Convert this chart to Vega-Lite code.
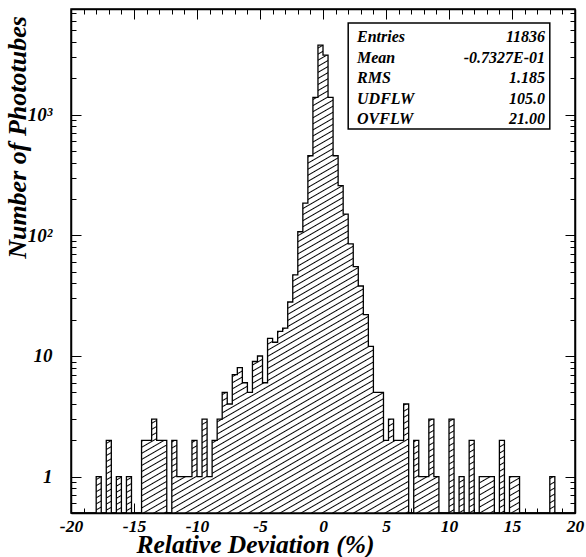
{
  "$schema": "https://vega.github.io/schema/vega-lite/v6.json",
  "width": 504,
  "height": 504,
  "autosize": {"type": "none"},
  "padding": {"left": 71, "top": 9, "right": 11, "bottom": 44},
  "background": "white",
  "config": {
    "view": {"stroke": "black", "strokeWidth": 1.5},
    "axis": {
      "grid": false,
      "domainColor": "black",
      "domainWidth": 1.5,
      "tickColor": "black",
      "tickWidth": 1,
      "labelFont": "Liberation Serif",
      "labelFontStyle": "italic",
      "labelFontWeight": "bold",
      "labelColor": "black",
      "labelOverlap": false,
      "labelFlush": false,
      "titleFont": "Liberation Serif",
      "titleFontStyle": "italic",
      "titleFontWeight": "bold",
      "titleColor": "black"
    }
  },
  "resolve": {"axis": {"x": "independent", "y": "independent"}},
  "layer": [
    {
      "data": {"values": [
        {"lo": -20, "n": 0}, {"lo": -19.6, "n": 0}, {"lo": -19.2, "n": 0}, {"lo": -18.8, "n": 0}, {"lo": -18.4, "n": 0},
        {"lo": -18, "n": 1}, {"lo": -17.6, "n": 0}, {"lo": -17.2, "n": 2}, {"lo": -16.8, "n": 0}, {"lo": -16.4, "n": 1},
        {"lo": -16, "n": 0}, {"lo": -15.6, "n": 1}, {"lo": -15.2, "n": 0}, {"lo": -14.8, "n": 0}, {"lo": -14.4, "n": 2},
        {"lo": -14, "n": 2}, {"lo": -13.6, "n": 3}, {"lo": -13.2, "n": 2}, {"lo": -12.8, "n": 2}, {"lo": -12.4, "n": 0},
        {"lo": -12, "n": 2}, {"lo": -11.6, "n": 1}, {"lo": -11.2, "n": 1}, {"lo": -10.8, "n": 1}, {"lo": -10.4, "n": 2},
        {"lo": -10, "n": 1}, {"lo": -9.6, "n": 3}, {"lo": -9.2, "n": 1}, {"lo": -8.8, "n": 2}, {"lo": -8.4, "n": 3},
        {"lo": -8, "n": 5}, {"lo": -7.6, "n": 4}, {"lo": -7.2, "n": 7}, {"lo": -6.8, "n": 8}, {"lo": -6.4, "n": 6},
        {"lo": -6, "n": 5}, {"lo": -5.6, "n": 9}, {"lo": -5.2, "n": 10}, {"lo": -4.8, "n": 6}, {"lo": -4.4, "n": 14},
        {"lo": -4, "n": 13}, {"lo": -3.6, "n": 16}, {"lo": -3.2, "n": 17}, {"lo": -2.8, "n": 28}, {"lo": -2.4, "n": 47},
        {"lo": -2, "n": 107}, {"lo": -1.6, "n": 185}, {"lo": -1.2, "n": 456}, {"lo": -0.8, "n": 1390}, {"lo": -0.4, "n": 3770},
        {"lo": 0, "n": 3110}, {"lo": 0.4, "n": 1390}, {"lo": 0.8, "n": 456}, {"lo": 1.2, "n": 258}, {"lo": 1.6, "n": 150},
        {"lo": 2, "n": 85}, {"lo": 2.4, "n": 55}, {"lo": 2.8, "n": 38}, {"lo": 3.2, "n": 22}, {"lo": 3.6, "n": 12},
        {"lo": 4, "n": 5}, {"lo": 4.4, "n": 5}, {"lo": 4.8, "n": 2}, {"lo": 5.2, "n": 3}, {"lo": 5.6, "n": 2},
        {"lo": 6, "n": 2}, {"lo": 6.4, "n": 4}, {"lo": 6.8, "n": 0}, {"lo": 7.2, "n": 2}, {"lo": 7.6, "n": 1},
        {"lo": 8, "n": 1}, {"lo": 8.4, "n": 3}, {"lo": 8.8, "n": 1}, {"lo": 9.2, "n": 0}, {"lo": 9.6, "n": 0},
        {"lo": 10, "n": 3}, {"lo": 10.4, "n": 0}, {"lo": 10.8, "n": 1}, {"lo": 11.2, "n": 0}, {"lo": 11.6, "n": 2},
        {"lo": 12, "n": 0}, {"lo": 12.4, "n": 1}, {"lo": 12.8, "n": 1}, {"lo": 13.2, "n": 1}, {"lo": 13.6, "n": 0},
        {"lo": 14, "n": 2}, {"lo": 14.4, "n": 0}, {"lo": 14.8, "n": 1}, {"lo": 15.2, "n": 1}, {"lo": 15.6, "n": 0},
        {"lo": 16, "n": 0}, {"lo": 16.4, "n": 0}, {"lo": 16.8, "n": 0}, {"lo": 17.2, "n": 0}, {"lo": 17.6, "n": 0},
        {"lo": 18, "n": 1}, {"lo": 18.4, "n": 0}, {"lo": 18.8, "n": 0}, {"lo": 19.2, "n": 0}, {"lo": 19.6, "n": 0},
        {"lo": 20, "n": 0}
      ]},
      "mark": {"type": "area", "interpolate": "step-after", "fillOpacity": 1, "stroke": "black", "strokeWidth": 1.3,
        "fill": {"gradient": "linear", "x1": 0, "y1": 0, "x2": 0.727, "y2": 1.169, "stops": [
{"offset":0,"color":"#000"},{"offset":0.0015,"color":"#fff"},{"offset":0.0065,"color":"#fff"},
{"offset":0.008,"color":"#000"},{"offset":0.0095,"color":"#fff"},{"offset":0.0145,"color":"#fff"},
{"offset":0.016,"color":"#000"},{"offset":0.0175,"color":"#fff"},{"offset":0.0225,"color":"#fff"},
{"offset":0.024,"color":"#000"},{"offset":0.0255,"color":"#fff"},{"offset":0.0305,"color":"#fff"},
{"offset":0.032,"color":"#000"},{"offset":0.0335,"color":"#fff"},{"offset":0.0385,"color":"#fff"},
{"offset":0.04,"color":"#000"},{"offset":0.0415,"color":"#fff"},{"offset":0.0465,"color":"#fff"},
{"offset":0.048,"color":"#000"},{"offset":0.0495,"color":"#fff"},{"offset":0.0545,"color":"#fff"},
{"offset":0.056,"color":"#000"},{"offset":0.0575,"color":"#fff"},{"offset":0.0625,"color":"#fff"},
{"offset":0.064,"color":"#000"},{"offset":0.0655,"color":"#fff"},{"offset":0.0705,"color":"#fff"},
{"offset":0.072,"color":"#000"},{"offset":0.0735,"color":"#fff"},{"offset":0.0785,"color":"#fff"},
{"offset":0.08,"color":"#000"},{"offset":0.0815,"color":"#fff"},{"offset":0.0865,"color":"#fff"},
{"offset":0.088,"color":"#000"},{"offset":0.0895,"color":"#fff"},{"offset":0.0945,"color":"#fff"},
{"offset":0.096,"color":"#000"},{"offset":0.0975,"color":"#fff"},{"offset":0.1025,"color":"#fff"},
{"offset":0.104,"color":"#000"},{"offset":0.1055,"color":"#fff"},{"offset":0.1105,"color":"#fff"},
{"offset":0.112,"color":"#000"},{"offset":0.1135,"color":"#fff"},{"offset":0.1185,"color":"#fff"},
{"offset":0.12,"color":"#000"},{"offset":0.1215,"color":"#fff"},{"offset":0.1265,"color":"#fff"},
{"offset":0.128,"color":"#000"},{"offset":0.1295,"color":"#fff"},{"offset":0.1345,"color":"#fff"},
{"offset":0.136,"color":"#000"},{"offset":0.1375,"color":"#fff"},{"offset":0.1425,"color":"#fff"},
{"offset":0.144,"color":"#000"},{"offset":0.1455,"color":"#fff"},{"offset":0.1505,"color":"#fff"},
{"offset":0.152,"color":"#000"},{"offset":0.1535,"color":"#fff"},{"offset":0.1585,"color":"#fff"},
{"offset":0.16,"color":"#000"},{"offset":0.1615,"color":"#fff"},{"offset":0.1665,"color":"#fff"},
{"offset":0.168,"color":"#000"},{"offset":0.1695,"color":"#fff"},{"offset":0.1745,"color":"#fff"},
{"offset":0.176,"color":"#000"},{"offset":0.1775,"color":"#fff"},{"offset":0.1825,"color":"#fff"},
{"offset":0.184,"color":"#000"},{"offset":0.1855,"color":"#fff"},{"offset":0.1905,"color":"#fff"},
{"offset":0.192,"color":"#000"},{"offset":0.1935,"color":"#fff"},{"offset":0.1985,"color":"#fff"},
{"offset":0.2,"color":"#000"},{"offset":0.2015,"color":"#fff"},{"offset":0.2065,"color":"#fff"},
{"offset":0.208,"color":"#000"},{"offset":0.2095,"color":"#fff"},{"offset":0.2145,"color":"#fff"},
{"offset":0.216,"color":"#000"},{"offset":0.2175,"color":"#fff"},{"offset":0.2225,"color":"#fff"},
{"offset":0.224,"color":"#000"},{"offset":0.2255,"color":"#fff"},{"offset":0.2305,"color":"#fff"},
{"offset":0.232,"color":"#000"},{"offset":0.2335,"color":"#fff"},{"offset":0.2385,"color":"#fff"},
{"offset":0.24,"color":"#000"},{"offset":0.2415,"color":"#fff"},{"offset":0.2465,"color":"#fff"},
{"offset":0.248,"color":"#000"},{"offset":0.2495,"color":"#fff"},{"offset":0.2545,"color":"#fff"},
{"offset":0.256,"color":"#000"},{"offset":0.2575,"color":"#fff"},{"offset":0.2625,"color":"#fff"},
{"offset":0.264,"color":"#000"},{"offset":0.2655,"color":"#fff"},{"offset":0.2705,"color":"#fff"},
{"offset":0.272,"color":"#000"},{"offset":0.2735,"color":"#fff"},{"offset":0.2785,"color":"#fff"},
{"offset":0.28,"color":"#000"},{"offset":0.2815,"color":"#fff"},{"offset":0.2865,"color":"#fff"},
{"offset":0.288,"color":"#000"},{"offset":0.2895,"color":"#fff"},{"offset":0.2945,"color":"#fff"},
{"offset":0.296,"color":"#000"},{"offset":0.2975,"color":"#fff"},{"offset":0.3025,"color":"#fff"},
{"offset":0.304,"color":"#000"},{"offset":0.3055,"color":"#fff"},{"offset":0.3105,"color":"#fff"},
{"offset":0.312,"color":"#000"},{"offset":0.3135,"color":"#fff"},{"offset":0.3185,"color":"#fff"},
{"offset":0.32,"color":"#000"},{"offset":0.3215,"color":"#fff"},{"offset":0.3265,"color":"#fff"},
{"offset":0.328,"color":"#000"},{"offset":0.3295,"color":"#fff"},{"offset":0.3345,"color":"#fff"},
{"offset":0.336,"color":"#000"},{"offset":0.3375,"color":"#fff"},{"offset":0.3425,"color":"#fff"},
{"offset":0.344,"color":"#000"},{"offset":0.3455,"color":"#fff"},{"offset":0.3505,"color":"#fff"},
{"offset":0.352,"color":"#000"},{"offset":0.3535,"color":"#fff"},{"offset":0.3585,"color":"#fff"},
{"offset":0.36,"color":"#000"},{"offset":0.3615,"color":"#fff"},{"offset":0.3665,"color":"#fff"},
{"offset":0.368,"color":"#000"},{"offset":0.3695,"color":"#fff"},{"offset":0.3745,"color":"#fff"},
{"offset":0.376,"color":"#000"},{"offset":0.3775,"color":"#fff"},{"offset":0.3825,"color":"#fff"},
{"offset":0.384,"color":"#000"},{"offset":0.3855,"color":"#fff"},{"offset":0.3905,"color":"#fff"},
{"offset":0.392,"color":"#000"},{"offset":0.3935,"color":"#fff"},{"offset":0.3985,"color":"#fff"},
{"offset":0.4,"color":"#000"},{"offset":0.4015,"color":"#fff"},{"offset":0.4065,"color":"#fff"},
{"offset":0.408,"color":"#000"},{"offset":0.4095,"color":"#fff"},{"offset":0.4145,"color":"#fff"},
{"offset":0.416,"color":"#000"},{"offset":0.4175,"color":"#fff"},{"offset":0.4225,"color":"#fff"},
{"offset":0.424,"color":"#000"},{"offset":0.4255,"color":"#fff"},{"offset":0.4305,"color":"#fff"},
{"offset":0.432,"color":"#000"},{"offset":0.4335,"color":"#fff"},{"offset":0.4385,"color":"#fff"},
{"offset":0.44,"color":"#000"},{"offset":0.4415,"color":"#fff"},{"offset":0.4465,"color":"#fff"},
{"offset":0.448,"color":"#000"},{"offset":0.4495,"color":"#fff"},{"offset":0.4545,"color":"#fff"},
{"offset":0.456,"color":"#000"},{"offset":0.4575,"color":"#fff"},{"offset":0.4625,"color":"#fff"},
{"offset":0.464,"color":"#000"},{"offset":0.4655,"color":"#fff"},{"offset":0.4705,"color":"#fff"},
{"offset":0.472,"color":"#000"},{"offset":0.4735,"color":"#fff"},{"offset":0.4785,"color":"#fff"},
{"offset":0.48,"color":"#000"},{"offset":0.4815,"color":"#fff"},{"offset":0.4865,"color":"#fff"},
{"offset":0.488,"color":"#000"},{"offset":0.4895,"color":"#fff"},{"offset":0.4945,"color":"#fff"},
{"offset":0.496,"color":"#000"},{"offset":0.4975,"color":"#fff"},{"offset":0.5025,"color":"#fff"},
{"offset":0.504,"color":"#000"},{"offset":0.5055,"color":"#fff"},{"offset":0.5105,"color":"#fff"},
{"offset":0.512,"color":"#000"},{"offset":0.5135,"color":"#fff"},{"offset":0.5185,"color":"#fff"},
{"offset":0.52,"color":"#000"},{"offset":0.5215,"color":"#fff"},{"offset":0.5265,"color":"#fff"},
{"offset":0.528,"color":"#000"},{"offset":0.5295,"color":"#fff"},{"offset":0.5345,"color":"#fff"},
{"offset":0.536,"color":"#000"},{"offset":0.5375,"color":"#fff"},{"offset":0.5425,"color":"#fff"},
{"offset":0.544,"color":"#000"},{"offset":0.5455,"color":"#fff"},{"offset":0.5505,"color":"#fff"},
{"offset":0.552,"color":"#000"},{"offset":0.5535,"color":"#fff"},{"offset":0.5585,"color":"#fff"},
{"offset":0.56,"color":"#000"},{"offset":0.5615,"color":"#fff"},{"offset":0.5665,"color":"#fff"},
{"offset":0.568,"color":"#000"},{"offset":0.5695,"color":"#fff"},{"offset":0.5745,"color":"#fff"},
{"offset":0.576,"color":"#000"},{"offset":0.5775,"color":"#fff"},{"offset":0.5825,"color":"#fff"},
{"offset":0.584,"color":"#000"},{"offset":0.5855,"color":"#fff"},{"offset":0.5905,"color":"#fff"},
{"offset":0.592,"color":"#000"},{"offset":0.5935,"color":"#fff"},{"offset":0.5985,"color":"#fff"},
{"offset":0.6,"color":"#000"},{"offset":0.6015,"color":"#fff"},{"offset":0.6065,"color":"#fff"},
{"offset":0.608,"color":"#000"},{"offset":0.6095,"color":"#fff"},{"offset":0.6145,"color":"#fff"},
{"offset":0.616,"color":"#000"},{"offset":0.6175,"color":"#fff"},{"offset":0.6225,"color":"#fff"},
{"offset":0.624,"color":"#000"},{"offset":0.6255,"color":"#fff"},{"offset":0.6305,"color":"#fff"},
{"offset":0.632,"color":"#000"},{"offset":0.6335,"color":"#fff"},{"offset":0.6385,"color":"#fff"},
{"offset":0.64,"color":"#000"},{"offset":0.6415,"color":"#fff"},{"offset":0.6465,"color":"#fff"},
{"offset":0.648,"color":"#000"},{"offset":0.6495,"color":"#fff"},{"offset":0.6545,"color":"#fff"},
{"offset":0.656,"color":"#000"},{"offset":0.6575,"color":"#fff"},{"offset":0.6625,"color":"#fff"},
{"offset":0.664,"color":"#000"},{"offset":0.6655,"color":"#fff"},{"offset":0.6705,"color":"#fff"},
{"offset":0.672,"color":"#000"},{"offset":0.6735,"color":"#fff"},{"offset":0.6785,"color":"#fff"},
{"offset":0.68,"color":"#000"},{"offset":0.6815,"color":"#fff"},{"offset":0.6865,"color":"#fff"},
{"offset":0.688,"color":"#000"},{"offset":0.6895,"color":"#fff"},{"offset":0.6945,"color":"#fff"},
{"offset":0.696,"color":"#000"},{"offset":0.6975,"color":"#fff"},{"offset":0.7025,"color":"#fff"},
{"offset":0.704,"color":"#000"},{"offset":0.7055,"color":"#fff"},{"offset":0.7105,"color":"#fff"},
{"offset":0.712,"color":"#000"},{"offset":0.7135,"color":"#fff"},{"offset":0.7185,"color":"#fff"},
{"offset":0.72,"color":"#000"},{"offset":0.7215,"color":"#fff"},{"offset":0.7265,"color":"#fff"},
{"offset":0.728,"color":"#000"},{"offset":0.7295,"color":"#fff"},{"offset":0.7345,"color":"#fff"},
{"offset":0.736,"color":"#000"},{"offset":0.7375,"color":"#fff"},{"offset":0.7425,"color":"#fff"},
{"offset":0.744,"color":"#000"},{"offset":0.7455,"color":"#fff"},{"offset":0.7505,"color":"#fff"},
{"offset":0.752,"color":"#000"},{"offset":0.7535,"color":"#fff"},{"offset":0.7585,"color":"#fff"},
{"offset":0.76,"color":"#000"},{"offset":0.7615,"color":"#fff"},{"offset":0.7665,"color":"#fff"},
{"offset":0.768,"color":"#000"},{"offset":0.7695,"color":"#fff"},{"offset":0.7745,"color":"#fff"},
{"offset":0.776,"color":"#000"},{"offset":0.7775,"color":"#fff"},{"offset":0.7825,"color":"#fff"},
{"offset":0.784,"color":"#000"},{"offset":0.7855,"color":"#fff"},{"offset":0.7905,"color":"#fff"},
{"offset":0.792,"color":"#000"},{"offset":0.7935,"color":"#fff"},{"offset":0.7985,"color":"#fff"},
{"offset":0.8,"color":"#000"},{"offset":0.8015,"color":"#fff"},{"offset":0.8065,"color":"#fff"},
{"offset":0.808,"color":"#000"},{"offset":0.8095,"color":"#fff"},{"offset":0.8145,"color":"#fff"},
{"offset":0.816,"color":"#000"},{"offset":0.8175,"color":"#fff"},{"offset":0.8225,"color":"#fff"},
{"offset":0.824,"color":"#000"},{"offset":0.8255,"color":"#fff"},{"offset":0.8305,"color":"#fff"},
{"offset":0.832,"color":"#000"},{"offset":0.8335,"color":"#fff"},{"offset":0.8385,"color":"#fff"},
{"offset":0.84,"color":"#000"},{"offset":0.8415,"color":"#fff"},{"offset":0.8465,"color":"#fff"},
{"offset":0.848,"color":"#000"},{"offset":0.8495,"color":"#fff"},{"offset":0.8545,"color":"#fff"},
{"offset":0.856,"color":"#000"},{"offset":0.8575,"color":"#fff"},{"offset":0.8625,"color":"#fff"},
{"offset":0.864,"color":"#000"},{"offset":0.8655,"color":"#fff"},{"offset":0.8705,"color":"#fff"},
{"offset":0.872,"color":"#000"},{"offset":0.8735,"color":"#fff"},{"offset":0.8785,"color":"#fff"},
{"offset":0.88,"color":"#000"},{"offset":0.8815,"color":"#fff"},{"offset":0.8865,"color":"#fff"},
{"offset":0.888,"color":"#000"},{"offset":0.8895,"color":"#fff"},{"offset":0.8945,"color":"#fff"},
{"offset":0.896,"color":"#000"},{"offset":0.8975,"color":"#fff"},{"offset":0.9025,"color":"#fff"},
{"offset":0.904,"color":"#000"},{"offset":0.9055,"color":"#fff"},{"offset":0.9105,"color":"#fff"},
{"offset":0.912,"color":"#000"},{"offset":0.9135,"color":"#fff"},{"offset":0.9185,"color":"#fff"},
{"offset":0.92,"color":"#000"},{"offset":0.9215,"color":"#fff"},{"offset":0.9265,"color":"#fff"},
{"offset":0.928,"color":"#000"},{"offset":0.9295,"color":"#fff"},{"offset":0.9345,"color":"#fff"},
{"offset":0.936,"color":"#000"},{"offset":0.9375,"color":"#fff"},{"offset":0.9425,"color":"#fff"},
{"offset":0.944,"color":"#000"},{"offset":0.9455,"color":"#fff"},{"offset":0.9505,"color":"#fff"},
{"offset":0.952,"color":"#000"},{"offset":0.9535,"color":"#fff"},{"offset":0.9585,"color":"#fff"},
{"offset":0.96,"color":"#000"},{"offset":0.9615,"color":"#fff"},{"offset":0.9665,"color":"#fff"},
{"offset":0.968,"color":"#000"},{"offset":0.9695,"color":"#fff"},{"offset":0.9745,"color":"#fff"},
{"offset":0.976,"color":"#000"},{"offset":0.9775,"color":"#fff"},{"offset":0.9825,"color":"#fff"},
{"offset":0.984,"color":"#000"},{"offset":0.9855,"color":"#fff"},{"offset":0.9905,"color":"#fff"},
{"offset":0.992,"color":"#000"},{"offset":0.9935,"color":"#fff"},{"offset":0.9985,"color":"#fff"},
{"offset":1,"color":"#000"}
        ]}},
      "encoding": {
        "x": {
          "field": "lo", "type": "quantitative",
          "scale": {"domain": [-20, 20], "nice": false, "zero": false},
          "axis": {
            "orient": "bottom",
            "values": [-20,-19,-18,-17,-16,-15,-14,-13,-12,-11,-10,-9,-8,-7,-6,-5,-4,-3,-2,-1,0,1,2,3,4,5,6,7,8,9,10,11,12,13,14,15,16,17,18,19,20],
            "tickSize": {"condition": {"test": "datum.value % 5 === 0", "value": -10}, "value": -5},
            "labelExpr": "datum.value % 5 === 0 ? '' + datum.value : ''",
            "labelFontSize": 17.5,
            "labelPadding": 14,
            "title": "Relative Deviation (%)",
            "titleFontSize": 25.5,
            "titleX": 184,
            "titleY": 39,
            "titleAlign": "center",
            "titleBaseline": "alphabetic"
          }
        },
        "y": {
          "field": "n", "type": "quantitative",
          "scale": {"type": "log", "domain": [0.5, 7500], "nice": false, "clamp": true},
          "axis": {
            "orient": "left",
            "values": [0.6,0.7,0.8,0.9,1,2,3,4,5,6,7,8,9,10,20,30,40,50,60,70,80,90,100,200,300,400,500,600,700,800,900,1000,2000,3000,4000,5000,6000,7000],
            "tickSize": {"condition": {"test": "datum.value === 1 || datum.value === 10 || datum.value === 100 || datum.value === 1000", "value": -10}, "value": -5},
            "labelExpr": "datum.value === 1 ? '1' : datum.value === 10 ? '10' : datum.value === 100 ? '10²' : datum.value === 1000 ? '10³' : ''",
            "labelFontSize": 19,
            "labelPadding": 29,
            "labelBaseline": "middle",
            "title": "Number of Phototubes",
            "titleFontSize": 26,
            "titleAngle": -90,
            "titleX": -54,
            "titleY": 128,
            "titleAlign": "center",
            "titleBaseline": "middle"
          }
        },
        "y2": {"datum": 0.5}
      }
    },
    {
      "data": {"values": [{}]},
      "mark": {"type": "rect", "fill": "white", "stroke": "black", "strokeWidth": 1.5},
      "encoding": {
        "x": {
          "datum": 2.0, "type": "quantitative",
          "axis": {
            "orient": "top",
            "values": [-20,-19,-18,-17,-16,-15,-14,-13,-12,-11,-10,-9,-8,-7,-6,-5,-4,-3,-2,-1,0,1,2,3,4,5,6,7,8,9,10,11,12,13,14,15,16,17,18,19,20],
            "tickSize": {"condition": {"test": "datum.value % 5 === 0", "value": -10}, "value": -5},
            "labels": false,
            "title": null
          }
        },
        "x2": {"datum": 18.0},
        "y": {
          "datum": 5740, "type": "quantitative",
          "axis": {
            "orient": "right",
            "values": [0.6,0.7,0.8,0.9,1,2,3,4,5,6,7,8,9,10,20,30,40,50,60,70,80,90,100,200,300,400,500,600,700,800,900,1000,2000,3000,4000,5000,6000,7000],
            "tickSize": {"condition": {"test": "datum.value === 1 || datum.value === 10 || datum.value === 100 || datum.value === 1000", "value": -10}, "value": -5},
            "labels": false,
            "title": null
          }
        },
        "y2": {"datum": 759}
      }
    },
    {
      "data": {"values": [{}]},
      "mark": {"type": "text", "align": "left", "baseline": "alphabetic", "font": "Liberation Serif", "fontStyle": "italic", "fontWeight": "bold", "fontSize": 16, "lineHeight": 20.6, "color": "black",
        "text": ["Entries", "Mean", "RMS", "UDFLW", "OVFLW"]},
      "encoding": {
        "x": {"datum": 2.7, "type": "quantitative", "axis": null},
        "y": {"datum": 4000, "type": "quantitative", "axis": null}
      }
    },
    {
      "data": {"values": [{}]},
      "mark": {"type": "text", "align": "right", "baseline": "alphabetic", "font": "Liberation Serif", "fontStyle": "italic", "fontWeight": "bold", "fontSize": 16, "lineHeight": 20.6, "color": "black",
        "text": ["11836", "-0.7327E-01", "1.185", "105.0", "21.00"]},
      "encoding": {
        "x": {"datum": 17.62, "type": "quantitative", "axis": null},
        "y": {"datum": 4000, "type": "quantitative", "axis": null}
      }
    }
  ]
}
